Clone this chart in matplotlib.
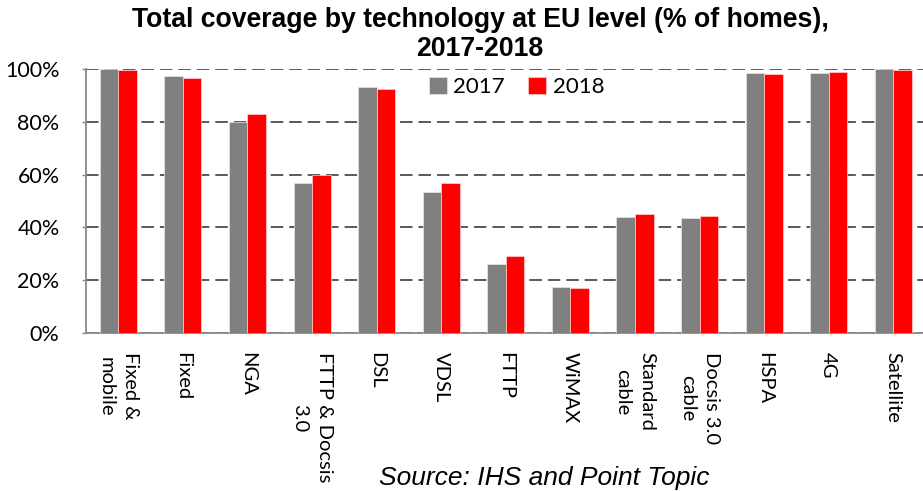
import numpy as np
import matplotlib
matplotlib.use("Agg")
import matplotlib.pyplot as plt

# data
categories = ["Fixed &\nmobile", "Fixed", "NGA", "FTTP & Docsis\n3.0", "DSL", "VDSL",
              "FTTP", "WiMAX", "Standard\ncable", "Docsis 3.0\ncable", "HSPA", "4G",
              "Satellite"]
cov_2017 = [100.0, 97.2, 79.8, 56.8, 93.1, 53.5, 26.3, 17.6, 44.1, 43.5, 98.3, 98.3, 100.0]
cov_2018 = [99.6, 96.7, 83.1, 60.0, 92.3, 56.7, 29.3, 17.1, 45.0, 44.3, 98.1, 98.9, 99.7]
years = ["2017", "2018"]

W, H = 923, 491
plt.rcParams['lines.scale_dashes'] = False
fig = plt.figure(figsize=(W / 100, H / 100), dpi=100)

# axes placed in pixels, like the source
ax = fig.add_axes([86 / W, (H - 333) / H, (925.6 - 86) / W, (333 - 69) / H])

x = np.arange(len(categories))
bw = 0.287
ax.bar(x - bw / 2, cov_2017, bw, color='#808080', edgecolor='#e6e6e6', linewidth=0.5,
       label=years[0], zorder=3)
ax.bar(x + bw / 2, cov_2018, bw, color='#ff0000', edgecolor='#ffd0d0', linewidth=0.5,
       label=years[1], zorder=3)

ax.set_xlim(-0.5, len(categories) - 0.5)
ax.set_ylim(0, 100)
ax.set_yticks(np.arange(0, 101, 20))
ax.set_yticklabels([f"{v}%" for v in range(0, 101, 20)], fontsize=15.5, family='Lato')
ax.tick_params(axis='y', length=3, color='#898989', width=1, pad=16)

ax.set_xticks(x)
ax.set_xticklabels(categories, rotation=270, fontsize=14.5, family='Lato',
                   ha='center', va='top', multialignment='center', linespacing=1.5)
ax.tick_params(axis='x', length=0, pad=14)

ax.grid(axis='y', color='#595959', linewidth=1.4, linestyle=(0, (9, 4.3)))
ax.set_axisbelow(True)
for s in ['top', 'right']:
    ax.spines[s].set_visible(False)
for s in ['left', 'bottom']:
    ax.spines[s].set_color('#898989')
    ax.spines[s].set_linewidth(1.3)

leg = ax.legend(ncol=2, frameon=False, loc='center left',
                bbox_to_anchor=(429 / W, 1 - 87 / H), bbox_transform=fig.transFigure,
                prop={'family': 'Lato', 'size': 16}, handlelength=0.8, handleheight=0.8,
                handletextpad=0.3, columnspacing=1.05, borderaxespad=0, borderpad=0)

fig.text(480 / W, 1 - 7 / H, "Total coverage by technology at EU level (% of homes),\n2017-2018",
         ha='center', va='top', fontsize=19.2, fontweight='bold', family='Liberation Sans',
         linespacing=1.15)

fig.text(544 / W, 1 - 478 / H, "Source: IHS and Point Topic", ha='center', va='center',
         fontsize=19, style='italic', family='Liberation Sans')

fig.savefig("out.png", dpi=100)
